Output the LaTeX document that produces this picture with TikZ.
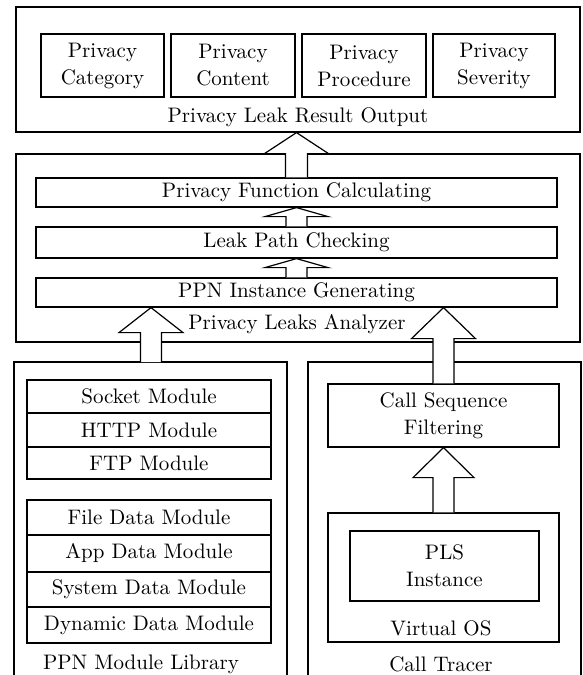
\documentclass[tikz,border=0pt]{standalone}
\usepackage{amsmath, amssymb}
\usepackage{tikz}
\usetikzlibrary{calc}

\tikzset{
  blk/.style 2 args={draw, line width=0.6pt, minimum width=#1*0.5pt, minimum height=#2*0.5pt, inner sep=0pt, align=center},
  fat/.style={draw, line width=0.6pt, fill=white, line join=miter},
  panel/.style={line width=0.6pt},
}

% hollow arrow: start, tip, shaft width, head width, head length
\newcommand{\fatarrow}[5]{%
  \draw[fat] ($(#1)+(-#3/2,0)$) -- ($(#1 |- #2)+(-#3/2,#5)$) -- ($(#1 |- #2)+(-#4/2,#5)$)
    -- (#1 |- #2) -- ($(#1 |- #2)+(#4/2,#5)$) -- ($(#1 |- #2)+(#3/2,#5)$) -- ($(#1)+(#3/2,0)$);}

\begin{document}
\begin{tikzpicture}[x=0.5pt, y=-0.5pt, font=\fontsize{10.5}{13.5}\selectfont]
\useasboundingbox (0,0) rectangle (583,675);

% Result output
\node[blk={564}{125}] (result) at (298,69.5) {};
\node[blk={123}{63}] (category) at (102.5,65.5) {Privacy\\Category};
\node[blk={124}{63}] (content) at (233,65.5) {Privacy\\Content};
\node[blk={124}{63}] (procedure) at (364,65.5) {Privacy\\Procedure};
\node[blk={122}{63}] (severity) at (494,65.5) {Privacy\\Severity};
\node (resultlbl) at (298,117) {Privacy Leak Result Output};

% Analyzer
\node[blk={564}{188}] (analyzer) at (298,248) {};
\node[blk={521}{29}] (funcalc) at (296.5,192.5) {Privacy Function Calculating};
\node[blk={521}{31}] (pathchk) at (296.5,242.5) {Leak Path Checking};
\node[blk={521}{29}] (ppngen) at (296.5,292.5) {PPN Instance Generating};
\node (analyzerlbl) at (297,324) {Privacy Leaks Analyzer};

% PPN module library
\draw[panel] (14,675) -- (14,362) -- (287,362) -- (287,675);
\coordinate (libtop) at (151,362);
\node[blk={244}{33}] (socket) at (149,396.5) {Socket Module};
\node[blk={244}{34}] (http) at (149,430) {HTTP Module};
\node[blk={244}{32}] (ftp) at (149,463) {FTP Module};
\node[blk={244}{35}] (filedata) at (149,517.5) {File Data Module};
\node[blk={244}{37}] (appdata) at (149,553.5) {App Data Module};
\node[blk={244}{35}] (sysdata) at (149,589.5) {System Data Module};
\node[blk={244}{36}] (dyndata) at (149,625) {Dynamic Data Module};
\node (librarylbl) at (141,664) {PPN Module Library};

% Call tracer
\draw[panel] (308,675) -- (308,362) -- (581,362) -- (581,675);
\node[blk={231}{63}] (callseq) at (443.5,415.5) {Call Sequence\\Filtering};
\node[blk={231}{129}] (vos) at (443.5,577.5) {};
\node[blk={189}{70}] (pls) at (444.5,566) {PLS\\Instance};
\node (voslbl) at (441,628) {Virtual OS};
\node (tracerlbl) at (441,664) {Call Tracer};

% Arrows
\fatarrow{pathchk.north}{funcalc.south}{21}{63}{9}
\fatarrow{ppngen.north}{pathchk.south}{21}{63}{9}
\fatarrow{funcalc.north}{result.south}{22}{64}{21}
\fatarrow{libtop}{ppngen.south}{21}{64}{25}
\fatarrow{callseq.north}{ppngen.south}{21}{64}{31}
\fatarrow{vos.north}{callseq.south}{21}{61}{30}
\end{tikzpicture}
\end{document}
